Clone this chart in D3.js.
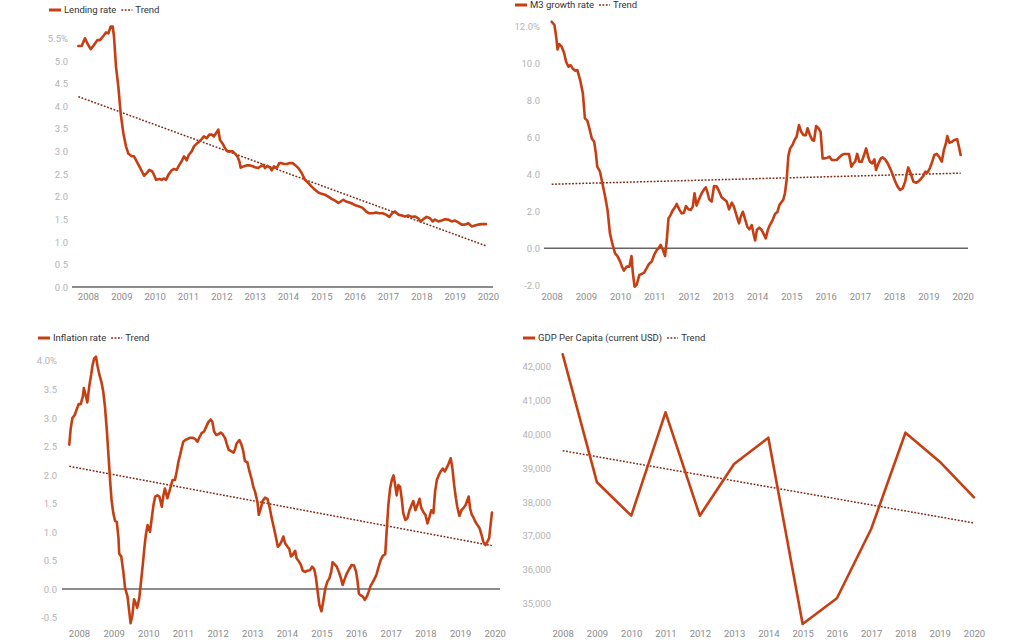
<!DOCTYPE html>
<html><head><meta charset="utf-8">
<script src="https://cdn.jsdelivr.net/npm/d3@7/dist/d3.min.js"></script>
<style>
html,body{margin:0;padding:0;background:#fff;}
svg{display:block;font-family:Roboto,"Noto Sans",sans-serif;}
</style></head>
<body>
<svg id="chart" width="1024" height="640"></svg>
<script>
// ---------- DATA ----------
const yearTicks = [2008,2009,2010,2011,2012,2013,2014,2015,2016,2017,2018,2019,2020];

const lendingTicks = [0,0.5,1,1.5,2,2.5,3,3.5,4,4.5,5,5.5];
const m3Ticks = [-2,0,2,4,6,8,10,12];
const inflationTicks = [-0.5,0,0.5,1,1.5,2,2.5,3,3.5,4];
const gdpTicks = [35000,36000,37000,38000,39000,40000,41000,42000];

// [decimal year, %]
const lendingRate = [
[2007.71,5.33],[2007.81,5.33],[2007.91,5.50],[2007.98,5.39],[2008.08,5.26],[2008.18,5.35],[2008.28,5.46],[2008.36,5.46],
[2008.46,5.55],[2008.54,5.63],[2008.61,5.61],[2008.68,5.76],[2008.74,5.76],[2008.78,5.54],[2008.84,4.87],[2008.91,4.43],
[2008.98,3.84],[2009.06,3.40],[2009.14,3.11],[2009.21,2.95],[2009.31,2.89],[2009.38,2.89],[2009.46,2.78],[2009.54,2.67],
[2009.61,2.57],[2009.68,2.46],[2009.76,2.52],[2009.84,2.59],[2009.92,2.56],[2009.98,2.48],[2010.04,2.37],[2010.14,2.39],
[2010.21,2.37],[2010.28,2.40],[2010.34,2.37],[2010.41,2.48],[2010.51,2.58],[2010.58,2.61],[2010.66,2.59],[2010.74,2.70],
[2010.81,2.78],[2010.88,2.89],[2010.96,2.80],[2011.02,2.92],[2011.11,3.00],[2011.18,3.11],[2011.26,3.17],[2011.34,3.22],
[2011.41,3.27],[2011.48,3.33],[2011.56,3.29],[2011.64,3.37],[2011.71,3.37],[2011.78,3.33],[2011.84,3.40],[2011.91,3.48],
[2011.96,3.25],[2012.04,3.17],[2012.11,3.07],[2012.18,3.00],[2012.26,3.00],[2012.34,3.00],[2012.41,2.95],[2012.48,2.89],
[2012.54,2.78],[2012.58,2.64],[2012.68,2.67],[2012.76,2.69],[2012.86,2.69],[2012.94,2.67],[2013.01,2.65],[2013.11,2.63],
[2013.18,2.67],[2013.26,2.70],[2013.31,2.63],[2013.38,2.68],[2013.46,2.64],[2013.51,2.58],[2013.58,2.67],[2013.66,2.63],
[2013.74,2.74],[2013.81,2.74],[2013.88,2.72],[2013.96,2.72],[2014.06,2.74],[2014.14,2.74],[2014.21,2.70],[2014.31,2.63],
[2014.41,2.52],[2014.51,2.37],[2014.61,2.30],[2014.71,2.22],[2014.81,2.15],[2014.91,2.09],[2015.01,2.06],[2015.11,2.04],
[2015.21,2.00],[2015.31,1.95],[2015.41,1.91],[2015.51,1.86],[2015.58,1.89],[2015.66,1.93],[2015.74,1.89],[2015.84,1.87],
[2015.94,1.84],[2016.04,1.80],[2016.14,1.78],[2016.24,1.75],[2016.34,1.67],[2016.44,1.63],[2016.54,1.63],[2016.64,1.65],
[2016.74,1.63],[2016.84,1.63],[2016.94,1.60],[2017.04,1.55],[2017.12,1.63],[2017.21,1.67],[2017.31,1.60],[2017.41,1.58],
[2017.51,1.56],[2017.61,1.58],[2017.71,1.55],[2017.81,1.56],[2017.91,1.52],[2017.98,1.45],[2018.06,1.50],[2018.16,1.55],
[2018.26,1.52],[2018.34,1.45],[2018.41,1.49],[2018.51,1.45],[2018.61,1.47],[2018.71,1.50],[2018.81,1.49],[2018.91,1.45],
[2019.01,1.47],[2019.11,1.43],[2019.21,1.38],[2019.31,1.38],[2019.41,1.41],[2019.51,1.34],[2019.61,1.36],[2019.71,1.38],
[2019.81,1.39],[2019.94,1.39]];
const lendingTrend = [[2007.71,4.21],[2019.94,0.91]];

const m3Growth = [
[2008.00,12.27],[2008.08,12.09],[2008.13,11.46],[2008.17,10.77],[2008.22,11.06],[2008.29,10.92],[2008.36,10.59],[2008.42,10.10],
[2008.49,9.83],[2008.55,9.92],[2008.61,9.74],[2008.68,9.62],[2008.75,9.65],[2008.83,9.11],[2008.91,8.39],[2008.97,7.04],
[2009.04,6.91],[2009.10,6.50],[2009.17,5.95],[2009.24,5.77],[2009.29,5.14],[2009.33,4.42],[2009.41,4.15],[2009.49,3.43],
[2009.56,2.80],[2009.63,2.08],[2009.70,0.81],[2009.78,0.18],[2009.85,-0.27],[2009.92,-0.42],[2010.00,-0.72],[2010.05,-0.99],
[2010.11,-1.21],[2010.19,-0.99],[2010.27,-0.99],[2010.33,-0.42],[2010.37,-1.35],[2010.42,-2.08],[2010.48,-1.98],[2010.56,-1.44],
[2010.63,-1.39],[2010.70,-1.32],[2010.77,-1.08],[2010.84,-0.85],[2010.92,-0.72],[2010.99,-0.36],[2011.07,-0.09],[2011.12,0.00],
[2011.18,0.18],[2011.24,-0.05],[2011.31,-0.42],[2011.36,0.45],[2011.41,1.62],[2011.47,1.80],[2011.53,2.04],[2011.60,2.22],
[2011.65,2.40],[2011.73,2.08],[2011.80,1.89],[2011.86,1.93],[2011.92,2.29],[2011.99,2.11],[2012.06,2.08],[2012.12,2.26],
[2012.17,2.98],[2012.23,2.31],[2012.30,2.65],[2012.38,2.98],[2012.45,3.19],[2012.50,3.30],[2012.55,3.01],[2012.60,2.65],
[2012.67,2.53],[2012.74,3.37],[2012.82,3.34],[2012.89,3.07],[2012.96,2.76],[2013.03,2.65],[2013.11,2.53],[2013.18,2.11],
[2013.26,2.47],[2013.32,2.26],[2013.40,1.75],[2013.47,1.35],[2013.52,1.71],[2013.58,1.98],[2013.64,1.62],[2013.71,1.17],
[2013.77,1.03],[2013.84,1.26],[2013.89,0.81],[2013.94,0.42],[2013.99,0.99],[2014.06,1.12],[2014.13,0.99],[2014.18,0.81],
[2014.25,0.54],[2014.31,0.99],[2014.37,1.26],[2014.45,1.53],[2014.52,1.86],[2014.59,1.97],[2014.65,2.35],[2014.72,2.53],
[2014.76,2.62],[2014.81,2.98],[2014.86,3.70],[2014.91,5.00],[2014.96,5.41],[2015.03,5.59],[2015.09,5.86],[2015.15,6.04],
[2015.22,6.68],[2015.28,6.32],[2015.35,6.13],[2015.42,6.13],[2015.47,6.50],[2015.54,6.13],[2015.61,5.86],[2015.66,5.83],
[2015.72,6.62],[2015.79,6.50],[2015.85,6.32],[2015.91,4.87],[2015.98,4.87],[2016.05,4.91],[2016.11,4.96],[2016.18,4.78],
[2016.24,4.78],[2016.32,4.78],[2016.40,4.93],[2016.47,5.05],[2016.54,5.11],[2016.61,5.11],[2016.68,5.11],[2016.75,4.42],
[2016.81,4.60],[2016.86,4.69],[2016.92,5.11],[2016.98,4.69],[2017.05,4.69],[2017.12,5.05],[2017.18,5.41],[2017.24,4.96],
[2017.29,4.69],[2017.36,4.60],[2017.42,4.82],[2017.47,4.24],[2017.54,4.60],[2017.61,4.87],[2017.66,4.93],[2017.73,4.82],
[2017.80,4.64],[2017.88,4.33],[2017.96,3.97],[2018.03,3.61],[2018.10,3.34],[2018.17,3.16],[2018.25,3.25],[2018.32,3.61],
[2018.37,4.06],[2018.41,4.38],[2018.48,4.06],[2018.56,3.61],[2018.64,3.55],[2018.70,3.61],[2018.77,3.74],[2018.85,3.92],
[2018.91,4.15],[2018.97,4.10],[2019.04,4.33],[2019.11,4.69],[2019.17,5.05],[2019.24,5.11],[2019.32,4.93],[2019.39,4.69],
[2019.45,5.32],[2019.51,5.68],[2019.55,6.08],[2019.61,5.72],[2019.69,5.77],[2019.75,5.86],[2019.84,5.90],[2019.89,5.50],
[2019.94,5.05]];
const m3Trend = [[2008.00,3.47],[2019.94,4.07]];

const inflationRate = [
[2007.72,2.53],[2007.76,2.81],[2007.81,3.00],[2007.87,3.04],[2007.93,3.14],[2007.99,3.24],[2008.05,3.24],[2008.11,3.37],
[2008.14,3.52],[2008.19,3.40],[2008.24,3.27],[2008.30,3.57],[2008.35,3.75],[2008.39,3.92],[2008.44,4.04],[2008.49,4.07],
[2008.54,3.89],[2008.59,3.75],[2008.65,3.62],[2008.70,3.46],[2008.75,3.19],[2008.80,2.81],[2008.85,2.35],[2008.90,1.88],
[2008.94,1.56],[2008.99,1.33],[2009.04,1.19],[2009.09,1.18],[2009.14,0.89],[2009.16,0.62],[2009.22,0.57],[2009.28,0.30],
[2009.33,0.02],[2009.40,-0.13],[2009.44,-0.34],[2009.49,-0.60],[2009.54,-0.46],[2009.59,-0.18],[2009.65,-0.27],[2009.68,-0.33],
[2009.74,-0.16],[2009.78,0.07],[2009.84,0.42],[2009.89,0.74],[2009.93,0.95],[2009.98,1.12],[2010.05,1.00],[2010.10,1.24],
[2010.15,1.47],[2010.20,1.62],[2010.26,1.64],[2010.32,1.62],[2010.39,1.44],[2010.44,1.65],[2010.48,1.76],[2010.55,1.59],
[2010.61,1.71],[2010.66,1.82],[2010.70,1.91],[2010.77,1.91],[2010.82,2.06],[2010.87,2.23],[2010.92,2.35],[2010.96,2.46],
[2011.01,2.58],[2011.07,2.61],[2011.14,2.63],[2011.21,2.65],[2011.28,2.65],[2011.35,2.63],[2011.42,2.58],[2011.47,2.65],
[2011.54,2.73],[2011.61,2.76],[2011.67,2.84],[2011.73,2.92],[2011.80,2.97],[2011.85,2.93],[2011.90,2.76],[2011.96,2.70],
[2012.02,2.71],[2012.09,2.74],[2012.15,2.71],[2012.22,2.64],[2012.26,2.55],[2012.32,2.44],[2012.38,2.42],[2012.46,2.39],
[2012.50,2.44],[2012.55,2.55],[2012.63,2.61],[2012.69,2.53],[2012.74,2.42],[2012.79,2.24],[2012.86,2.22],[2012.92,2.06],
[2012.99,1.91],[2013.03,1.79],[2013.08,1.71],[2013.15,1.53],[2013.19,1.30],[2013.25,1.42],[2013.30,1.54],[2013.37,1.60],
[2013.44,1.58],[2013.50,1.44],[2013.56,1.25],[2013.63,1.06],[2013.69,0.89],[2013.74,0.74],[2013.80,0.78],[2013.85,0.84],
[2013.90,0.92],[2013.95,0.80],[2014.02,0.74],[2014.07,0.70],[2014.12,0.57],[2014.17,0.60],[2014.24,0.67],[2014.28,0.54],
[2014.34,0.49],[2014.40,0.43],[2014.46,0.32],[2014.53,0.30],[2014.59,0.32],[2014.67,0.33],[2014.73,0.39],[2014.79,0.35],
[2014.84,0.20],[2014.89,-0.05],[2014.94,-0.28],[2015.00,-0.39],[2015.05,-0.22],[2015.11,0.01],[2015.17,0.13],[2015.23,0.19],
[2015.28,0.30],[2015.32,0.47],[2015.38,0.43],[2015.44,0.39],[2015.50,0.30],[2015.56,0.19],[2015.61,0.07],[2015.66,0.16],
[2015.73,0.27],[2015.81,0.36],[2015.87,0.42],[2015.94,0.41],[2016.00,0.30],[2016.04,0.14],[2016.08,-0.08],[2016.13,-0.11],
[2016.19,-0.13],[2016.25,-0.19],[2016.31,-0.13],[2016.36,-0.05],[2016.42,0.06],[2016.48,0.12],[2016.54,0.19],[2016.59,0.26],
[2016.65,0.39],[2016.71,0.51],[2016.77,0.58],[2016.84,0.61],[2016.88,1.00],[2016.93,1.47],[2016.98,1.76],[2017.03,1.91],
[2017.08,1.99],[2017.12,1.85],[2017.17,1.64],[2017.22,1.82],[2017.27,1.79],[2017.32,1.56],[2017.36,1.33],[2017.42,1.21],
[2017.48,1.24],[2017.54,1.38],[2017.60,1.47],[2017.65,1.54],[2017.71,1.38],[2017.77,1.47],[2017.83,1.58],[2017.88,1.42],
[2017.94,1.35],[2018.00,1.30],[2018.06,1.15],[2018.12,1.27],[2018.17,1.38],[2018.23,1.33],[2018.28,1.71],[2018.33,1.91],
[2018.39,2.00],[2018.44,2.06],[2018.50,2.11],[2018.56,2.06],[2018.62,2.13],[2018.67,2.20],[2018.73,2.29],[2018.78,2.11],
[2018.83,1.82],[2018.88,1.59],[2018.92,1.44],[2018.98,1.28],[2019.04,1.38],[2019.10,1.42],[2019.16,1.47],[2019.21,1.56],
[2019.25,1.62],[2019.29,1.41],[2019.34,1.30],[2019.39,1.25],[2019.44,1.18],[2019.50,1.12],[2019.56,1.07],[2019.62,0.95],
[2019.67,0.83],[2019.73,0.77],[2019.79,0.83],[2019.84,0.89],[2019.88,1.12],[2019.92,1.34]];
const inflationTrend = [[2007.72,2.15],[2019.92,0.76]];

const gdpYears = [2008,2009,2010,2011,2012,2013,2014,2015,2016,2017,2018,2019,2020];
const gdpPerCapita = [42367,38580,37592,40651,37592,39121,39900,34388,35148,37198,40047,39189,38136];
const gdpTrend = [[2008,39515],[2020,37376]];

// ---------- STYLE / LAYOUT ----------
const LINE = "#c63f12", TREND = "#7e2812";
const FS = 9.5;
const svg = d3.select("#chart");

const panels = [
  { name:"Lending rate", data: lendingRate, trend: lendingTrend, ticks: lendingTicks, fmt: (d,top)=> d.toFixed(1)+(top?"%":""),
    xr:[88,488], yDom:[0,5.5], yRng:[287,38.3], base:[72,493], labelRight:68, xLabelY:297, legend:[49,10] },
  { name:"M3 growth rate", data: m3Growth, trend: m3Trend, ticks: m3Ticks, fmt:(d,top)=> d.toFixed(1)+(top?"%":""),
    xr:[551.7,962.7], yDom:[0,12], yRng:[248.3,26.7], base:[544,968], labelRight:540, xLabelY:297, legend:[515,5] },
  { name:"Inflation rate", data: inflationRate, trend: inflationTrend, ticks: inflationTicks, fmt:(d,top)=> d.toFixed(1)+(top?"%":""),
    xr:[79,494.7], yDom:[0,4], yRng:[589,360.7], base:[62,500], labelRight:57, xLabelY:634, legend:[38,338] },
  { name:"GDP Per Capita (current USD)", data: gdpYears.map((y,i)=>[y,gdpPerCapita[i]]), trend: gdpTrend, ticks: gdpTicks, fmt:(d)=> d3.format(",")(d),
    xr:[562.7,974], yDom:[35000,42000], yRng:[603.3,366.7], base:null, labelRight:551, xLabelY:634, legend:[523,338] }
];

panels.forEach(p => {
  const g = svg.append("g");
  const x = d3.scaleLinear().domain([2008,2020]).range(p.xr);
  const y = d3.scaleLinear().domain(p.yDom).range(p.yRng);
  const maxTick = d3.max(p.ticks);

  // y axis labels
  const ya = g.append("g").attr("transform",`translate(${p.labelRight},0)`)
    .call(d3.axisLeft(y).tickValues(p.ticks).tickSize(0).tickPadding(0).tickFormat(d => p.fmt(d, d===maxTick)));
  ya.select(".domain").remove();
  ya.selectAll("text").attr("fill","#b3b3b3").attr("font-size",FS).attr("font-family","Roboto").attr("dy","0.34em");

  // x axis labels
  const xa = g.append("g").attr("transform",`translate(0,${p.xLabelY})`)
    .call(d3.axisBottom(x).tickValues(yearTicks).tickSize(0).tickPadding(0).tickFormat(d3.format("d")));
  xa.select(".domain").remove();
  xa.selectAll("text").attr("fill","#8c8c8c").attr("font-size",FS).attr("font-family","Roboto").attr("y",0).attr("dy","0.34em");

  // baseline / zero line
  if (p.base) {
    g.append("line").attr("x1",p.base[0]).attr("x2",p.base[1]).attr("y1",y(0)).attr("y2",y(0))
      .attr("stroke","#666").attr("stroke-width",1.4);
  }

  // trend
  g.append("path").datum(p.trend)
    .attr("d", d3.line().x(d=>x(d[0])).y(d=>y(d[1])))
    .attr("fill","none").attr("stroke",TREND).attr("stroke-width",1.5).attr("stroke-dasharray","1.8,1.6");

  // series
  g.append("path").datum(p.data)
    .attr("d", d3.line().x(d=>x(d[0])).y(d=>y(d[1])))
    .attr("fill","none").attr("stroke",LINE).attr("stroke-width",2.6)
    .attr("stroke-linejoin","round").attr("stroke-linecap","round");

  // legend
  const lg = g.append("g").attr("transform",`translate(${p.legend[0]},${p.legend[1]})`);
  lg.append("line").attr("x1",0).attr("x2",12).attr("y1",0).attr("y2",0).attr("stroke",LINE).attr("stroke-width",3);
  const t1 = lg.append("text").attr("x",15).attr("y",0).attr("dy","0.34em").attr("font-size",FS)
    .attr("font-family","Roboto").attr("fill","#333").text(p.name);
  const w = t1.node().getComputedTextLength();
  const tx = 15 + w + 5;
  lg.append("line").attr("x1",tx).attr("x2",tx+11).attr("y1",0).attr("y2",0)
    .attr("stroke",TREND).attr("stroke-width",1.5).attr("stroke-dasharray","1.8,1.6");
  lg.append("text").attr("x",tx+14).attr("y",0).attr("dy","0.34em").attr("font-size",FS)
    .attr("font-family","Roboto").attr("fill","#333").text("Trend");
});
</script>
</body></html>
